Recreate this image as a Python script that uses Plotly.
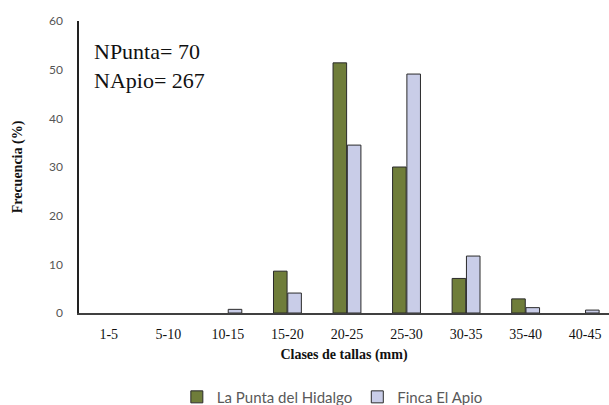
import plotly.graph_objects as go

categories = ["1-5", "5-10", "10-15", "15-20", "20-25", "25-30", "30-35", "35-40", "40-45"]
punta = [0, 0, 0, 8.6, 51.4, 30.0, 7.1, 2.9, 0]
apio = [0, 0, 0.75, 4.1, 34.5, 49.1, 11.7, 1.1, 0.6]
series_names = ["La Punta del Hidalgo", "Finca El Apio"]
y_ticks = [0, 10, 20, 30, 40, 50, 60]


def nz(vals):
    return [v if v else None for v in vals]


fig = go.Figure()
fig.add_trace(go.Bar(x=categories, y=nz(punta), name=series_names[0],
                     marker=dict(color="#6f7d3a", line=dict(color="#2a2a2a", width=1))))
fig.add_trace(go.Bar(x=categories, y=nz(apio), name=series_names[1],
                     marker=dict(color="#c9cde8", line=dict(color="#2a2a2a", width=1))))

fig.update_layout(
    width=609, height=405,
    margin=dict(l=79, r=0, t=21, b=92, autoexpand=False),
    paper_bgcolor="white", plot_bgcolor="white",
    barmode="group", bargap=0.52, bargroupgap=0.05,
    showlegend=True,
    legend=dict(orientation="h", x=0.478, xanchor="center", y=-0.288, yanchor="middle",
                font=dict(family="Lato", size=15, color="#595959"), itemwidth=30,
                tracegroupgap=0),
    xaxis=dict(type="category", range=[-0.5, 8.4], showgrid=False, automargin=False,
               showline=True, linecolor="#404040", linewidth=1.5, ticks="",
               ticklabelstandoff=7,
               tickfont=dict(family="Liberation Serif", size=14, color="#111"),
               title=dict(text="<b>Clases de tallas (mm)</b>", standoff=9,
                          font=dict(family="Liberation Serif", size=14, color="#111"))),
    yaxis=dict(range=[0, 60], tickvals=y_ticks, showgrid=False, zeroline=False,
               automargin=False,
               showline=True, linecolor="#222", linewidth=1.5, ticks="",
               ticklabelstandoff=12,
               tickfont=dict(family="Lato", size=12, color="#555"),
               title=dict(text="<b>Frecuencia (%)</b>", standoff=23,
                          font=dict(family="Liberation Serif", size=14, color="#111"))),
)

fig.add_annotation(xref="paper", yref="paper", x=0.025, y=0.945, xanchor="left", yanchor="top",
                   text="NPunta= 70<br>NApio= 267", showarrow=False, align="left",
                   font=dict(family="Liberation Serif", size=22, color="#111"))

fig.write_html("out.html", config={"displayModeBar": False},
               post_script="document.body.style.margin='0';document.body.style.overflow='hidden';")
